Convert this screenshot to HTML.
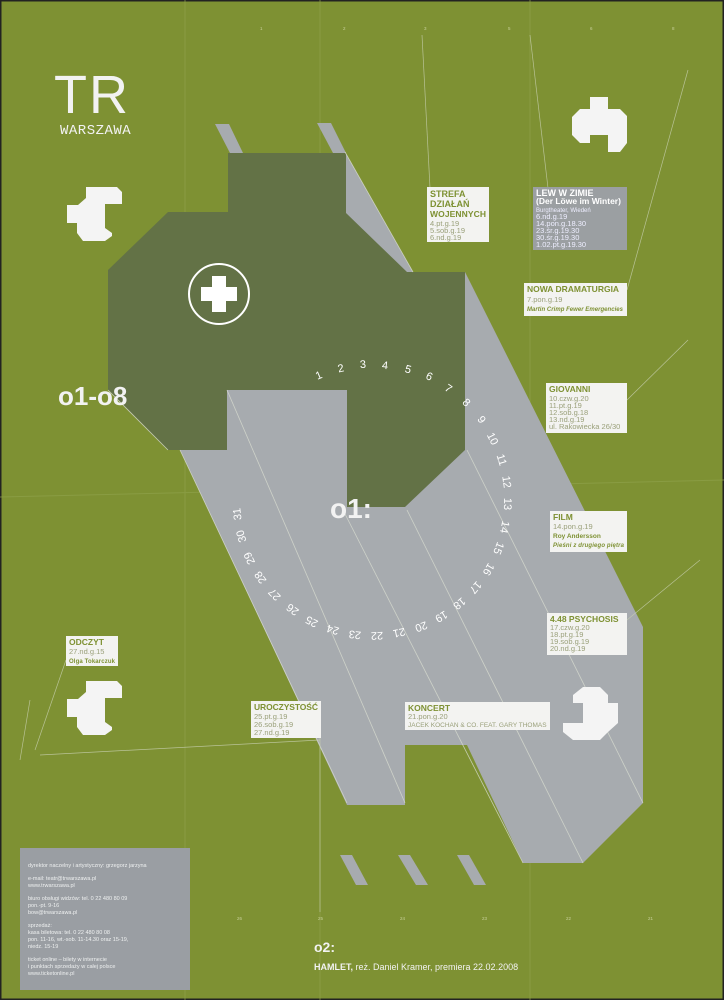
<!DOCTYPE html>
<html><head><meta charset="utf-8"><style>
html,body{margin:0;padding:0;background:#7e9133;}
svg{display:block}
.t{font-family:"Liberation Sans",sans-serif}
</style></head><body>
<svg width="724" height="1000" viewBox="0 0 724 1000" xmlns="http://www.w3.org/2000/svg" class="t">
<rect width="724" height="1000" fill="#7e9133"/>
<rect x="0" y="0" width="724" height="1000" fill="none" stroke="#222" stroke-width="3"/>
<g stroke="#8fa14a" stroke-width="1" opacity="0.7">
<line x1="185" y1="0" x2="185" y2="1000"/><line x1="320" y1="0" x2="320" y2="1000"/>
<line x1="530" y1="0" x2="530" y2="1000"/><line x1="0" y1="497" x2="724" y2="480"/>
</g>
<g fill="#a7abaf">
<polygon points="345,152 413,272 465,272 643,627 643,803 583,863 523,863 467,745 405,745 405,805 347,805 180,450 190,390 345,390"/>
<polygon points="215,124 229,124 243,153 230,153"/>
<polygon points="317,123 331,123 346,153 333,153"/>
<polygon points="340,855 352,855 368,885 356,885"/>
<polygon points="398,855 410,855 428,885 416,885"/>
<polygon points="457,855 469,855 486,885 474,885"/>
</g>
<polygon fill="#637246" points="228,153 346,153 346,213 407,272 465,272 465,450 405,507 347,507 347,390 227,390 227,450 168,450 108,390 108,270 168,212 228,212"/>
<g stroke="#d8dcd0" stroke-width="0.8" fill="none" opacity="0.8">
<line x1="227" y1="390" x2="405" y2="803"/><line x1="180" y1="450" x2="347" y2="803"/>
<line x1="343" y1="510" x2="523" y2="863"/><line x1="407" y1="510" x2="583" y2="863"/>
<line x1="467" y1="450" x2="643" y2="803"/><line x1="345" y1="152" x2="413" y2="272"/>
<line x1="108" y1="390" x2="168" y2="450"/>
</g>
<g stroke="#c8d0b0" stroke-width="0.7" fill="none" opacity="0.8">
<line x1="422" y1="35" x2="430" y2="188"/><line x1="530" y1="35" x2="548" y2="188"/>
<line x1="688" y1="70" x2="627" y2="290"/><line x1="688" y1="340" x2="627" y2="400"/>
<line x1="700" y1="560" x2="627" y2="620"/><line x1="35" y1="750" x2="66" y2="660"/>
<line x1="40" y1="755" x2="320" y2="740"/><line x1="320" y1="738" x2="320" y2="912"/>
<line x1="20" y1="760" x2="30" y2="700"/>
</g>
<circle cx="219" cy="294" r="30" fill="none" stroke="#fff" stroke-width="2"/>
<path d="M212 276h14v11h11v14h-11v11h-14v-11h-11v-14h11z" fill="#fff"/>
<g fill="#f4f4f4">
<polygon points="86,187 117,187 122,192 122,204 105,204 105,228 112,233 112,236 105,241 83,241 77,233 77,223 67,223 67,205 78,205 86,198"/>
<polygon points="590,97 608,97 608,109 620,109 627,116 627,143 620,152 608,152 608,135 590,135 590,143 580,143 572,135 572,117 580,109 590,109"/>
<polygon points="86,681 117,681 122,686 122,698 105,698 105,722 112,727 112,730 105,735 83,735 77,727 77,717 67,717 67,699 78,699 86,692"/>
<polygon points="583,687 600,687 608,695 608,703 618,703 618,723 608,732 600,740 573,740 563,732 563,723 583,723 583,703 573,703 573,695"/>
</g>
<text x="54" y="113" font-size="54" fill="#f2f2f2" font-family="Liberation Sans" letter-spacing="2">TR</text>
<text x="60" y="134" font-size="14" fill="#f2f2f2" font-family="Liberation Mono" letter-spacing="0.5">WARSZAWA</text>
<text x="58" y="405" font-size="26" font-weight="bold" fill="#f2f2f2">o1-o8</text>
<text x="330" y="518" font-size="28" font-weight="bold" fill="#f2f2f2">o1:</text>
<g font-size="11" fill="#fff" text-anchor="middle" dominant-baseline="middle">
<text transform="translate(319,376) rotate(-23)">1</text>
<text transform="translate(341,369) rotate(-13)">2</text>
<text transform="translate(363,365) rotate(-4)">3</text>
<text transform="translate(385,366) rotate(6)">4</text>
<text transform="translate(408,370) rotate(15)">5</text>
<text transform="translate(429,377) rotate(25)">6</text>
<text transform="translate(448,389) rotate(34)">7</text>
<text transform="translate(466,403) rotate(44)">8</text>
<text transform="translate(481,420) rotate(54)">9</text>
<text transform="translate(492,439) rotate(63)">10</text>
<text transform="translate(501,460) rotate(73)">11</text>
<text transform="translate(506,482) rotate(82)">12</text>
<text transform="translate(507,504) rotate(92)">13</text>
<text transform="translate(504,527) rotate(101)">14</text>
<text transform="translate(498,548) rotate(111)">15</text>
<text transform="translate(488,569) rotate(120)">16</text>
<text transform="translate(475,587) rotate(130)">17</text>
<text transform="translate(459,603) rotate(140)">18</text>
<text transform="translate(441,616) rotate(149)">19</text>
<text transform="translate(421,626) rotate(159)">20</text>
<text transform="translate(399,632) rotate(168)">21</text>
<text transform="translate(377,635) rotate(178)">22</text>
<text transform="translate(355,634) rotate(187)">23</text>
<text transform="translate(333,629) rotate(197)">24</text>
<text transform="translate(312,621) rotate(207)">25</text>
<text transform="translate(293,609) rotate(216)">26</text>
<text transform="translate(275,594) rotate(226)">27</text>
<text transform="translate(261,577) rotate(235)">28</text>
<text transform="translate(250,558) rotate(245)">29</text>
<text transform="translate(242,536) rotate(254)">30</text>
<text transform="translate(238,514) rotate(264)">31</text>
</g>
<g font-size="7.5" fill="#9aa07a">
<rect x="427" y="187" width="62" height="55" fill="#f3f3f1"/>
<text x="430" y="197" font-size="9" font-weight="bold" fill="#7e9133">STREFA</text>
<text x="430" y="207" font-size="9" font-weight="bold" fill="#7e9133">DZIAŁAŃ</text>
<text x="430" y="217" font-size="8.5" font-weight="bold" fill="#7e9133" textLength="56">WOJENNYCH</text>
<text x="430" y="226">4.pt.g.19</text><text x="430" y="233">5.sob.g.19</text><text x="430" y="240">6.nd.g.19</text>

<rect x="533" y="187" width="94" height="63" fill="#9b9fa2"/>
<text x="536" y="196" font-size="9" font-weight="bold" fill="#fff">LEW W ZIMIE</text>
<text x="536" y="204" font-size="8.5" font-weight="bold" fill="#fff">(Der Löwe im Winter)</text>
<g fill="#eef">
<text x="536" y="212" font-size="6">Burgtheater, Wiedeń</text>
<text x="536" y="219">6.nd.g.19</text><text x="536" y="226">14.pon.g.18.30</text><text x="536" y="233">23.śr.g.19.30</text><text x="536" y="240">30.śr.g.19.30</text><text x="536" y="247">1.02.pt.g.19.30</text></g>

<rect x="524" y="283" width="103" height="33" fill="#f3f3f1"/>
<text x="527" y="292" font-size="8.5" font-weight="bold" fill="#7e9133">NOWA DRAMATURGIA</text>
<text x="527" y="302">7.pon.g.19</text>
<text x="527" y="311" font-size="6" font-weight="bold" font-style="italic" fill="#7e9133" textLength="96">Martin Crimp Fewer Emergencies</text>

<rect x="546" y="383" width="81" height="50" fill="#f3f3f1"/>
<text x="549" y="392" font-size="8.5" font-weight="bold" fill="#7e9133">GIOVANNI</text>
<text x="549" y="401">10.czw.g.20</text><text x="549" y="408">11.pt.g.19</text><text x="549" y="415">12.sob.g.18</text><text x="549" y="422">13.nd.g.19</text><text x="549" y="429">ul. Rakowiecka 26/30</text>

<rect x="550" y="511" width="77" height="41" fill="#f3f3f1"/>
<text x="553" y="520" font-size="8.5" font-weight="bold" fill="#7e9133">FILM</text>
<text x="553" y="529">14.pon.g.19</text>
<text x="553" y="538" font-size="6.5" font-weight="bold" fill="#7e9133">Roy Andersson</text>
<text x="553" y="547" font-size="6" font-weight="bold" font-style="italic" fill="#7e9133" textLength="71">Pieśni z drugiego piętra</text>

<rect x="547" y="613" width="80" height="42" fill="#f3f3f1"/>
<text x="550" y="622" font-size="8.5" font-weight="bold" fill="#7e9133">4.48 PSYCHOSIS</text>
<text x="550" y="630">17.czw.g.20</text><text x="550" y="637">18.pt.g.19</text><text x="550" y="644">19.sob.g.19</text><text x="550" y="651">20.nd.g.19</text>

<rect x="66" y="636" width="52" height="30" fill="#f3f3f1"/>
<text x="69" y="645" font-size="8.5" font-weight="bold" fill="#7e9133">ODCZYT</text>
<text x="69" y="654">27.nd.g.15</text>
<text x="69" y="663" font-size="6" font-weight="bold" fill="#7e9133" textLength="46">Olga Tokarczuk</text>

<rect x="251" y="701" width="70" height="37" fill="#f3f3f1"/>
<text x="254" y="710" font-size="8.5" font-weight="bold" fill="#7e9133" textLength="64">UROCZYSTOŚĆ</text>
<text x="254" y="719">25.pt.g.19</text><text x="254" y="727">26.sob.g.19</text><text x="254" y="735">27.nd.g.19</text>

<rect x="405" y="702" width="145" height="28" fill="#f3f3f1"/>
<text x="408" y="711" font-size="8.5" font-weight="bold" fill="#7e9133">KONCERT</text>
<text x="408" y="719">21.pon.g.20</text>
<text x="408" y="727" font-size="6.5">JACEK KOCHAN &amp; CO. FEAT. GARY THOMAS</text>
</g>
<rect x="20" y="848" width="170" height="142" fill="#9a9ea3"/>
<g font-size="5.5" fill="#eef0f0">
<text x="28" y="867">dyrektor naczelny i artystyczny: grzegorz jarzyna</text>
<text x="28" y="880">e-mail: teatr@trwarszawa.pl</text><text x="28" y="887">www.trwarszawa.pl</text>
<text x="28" y="900">biuro obsługi widzów: tel. 0 22 480 80 09</text><text x="28" y="907">pon.-pt. 9-16</text><text x="28" y="914">bow@trwarszawa.pl</text>
<text x="28" y="927">sprzedaż:</text><text x="28" y="934">kasa biletowa: tel. 0 22 480 80 08</text><text x="28" y="941">pon. 11-16, wt.-sob. 11-14.30 oraz 15-19,</text><text x="28" y="948">niedz. 15-19</text>
<text x="28" y="961">ticket online – bilety w internecie</text><text x="28" y="968">i punktach sprzedaży w całej polsce</text><text x="28" y="975">www.ticketonline.pl</text>
</g>
<text x="314" y="952" font-size="14" font-weight="bold" fill="#f2f2f2">o2:</text>
<text x="314" y="970" font-size="9" fill="#f2f2f2"><tspan font-weight="bold">HAMLET,</tspan> reż. Daniel Kramer, premiera 22.02.2008</text>
<g font-size="4.5" fill="#c8d09a">
<text x="237" y="920">26</text><text x="318" y="920">25</text><text x="400" y="920">24</text><text x="482" y="920">23</text><text x="566" y="920">22</text><text x="648" y="920">21</text>
<text x="260" y="30">1</text><text x="343" y="30">2</text><text x="424" y="30">3</text><text x="508" y="30">5</text><text x="590" y="30">6</text><text x="672" y="30">8</text>
</g>
</svg>
</body></html>
